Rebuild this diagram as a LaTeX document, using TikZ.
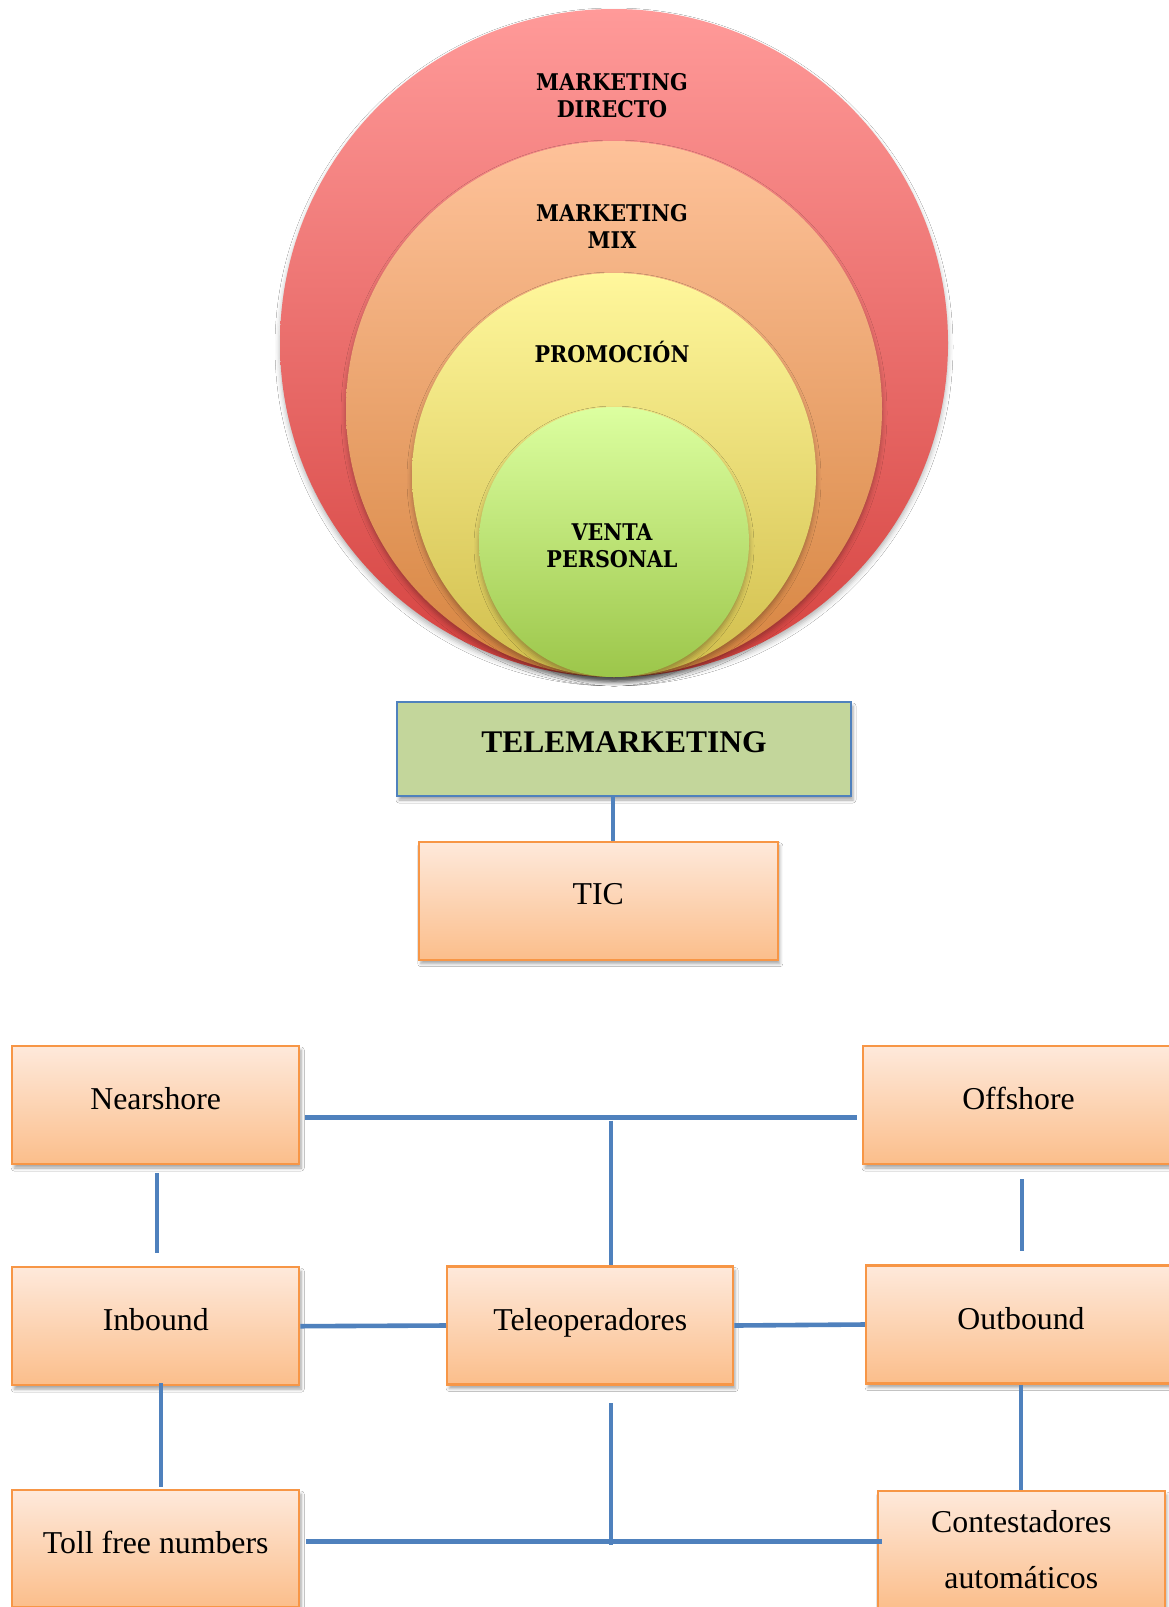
\documentclass[tikz,border=0pt]{standalone}
\usepackage{fontspec}
\setmainfont{Liberation Serif}
\newfontfamily\ringfont{DejaVuSerifCondensed}[Extension=.ttf, UprightFont=*, BoldFont=*-Bold]
\usetikzlibrary{shadows.blur}

\definecolor{linkblue}{HTML}{4F81BD}
\definecolor{boxedge}{HTML}{F79646}
\definecolor{boxtop}{HTML}{FEE9DB}
\definecolor{boxbot}{HTML}{FBBE8B}
\definecolor{tmfill}{HTML}{C3D69B}
\definecolor{redtop}{HTML}{FF9A99}
\definecolor{redbot}{HTML}{D5423F}
\definecolor{mixtop}{HTML}{FEC29A}
\definecolor{mixbot}{HTML}{D6843F}
\definecolor{promtop}{HTML}{FFF79C}
\definecolor{prombot}{HTML}{D1BE4C}
\definecolor{ventop}{HTML}{DCFFA0}
\definecolor{venbot}{HTML}{9CC64A}

\begin{document}
\begin{tikzpicture}[x=1pt,y=-1pt,
  ring/.style 2 args={circle, inner sep=0pt, top color=#1, bottom color=#2,
     blur shadow={shadow xshift=0pt, shadow yshift=-4pt, shadow blur radius=5pt, shadow opacity=30}},
  ringtext/.style={font=\ringfont\bfseries\fontsize{23}{27}\selectfont, align=center, inner sep=0pt},
  tbox/.style={rectangle, draw=boxedge, line width=2.4pt, top color=boxtop, bottom color=boxbot,
     inner sep=0pt, font=\fontsize{31.8}{56}\selectfont,
     blur shadow={shadow xshift=2pt, shadow yshift=-4pt, shadow blur radius=3pt, shadow opacity=35}},
  oneline/.style={text height=21pt, text depth=12pt},
  link/.style={draw=linkblue, line width=4.6pt},
  vlink/.style={draw=linkblue, line width=4pt}]

\useasboundingbox (0,0) rectangle (1169,1607);
\clip (0,0) rectangle (1169,1607);
\fill[white] (0,0) rectangle (1169,1607);

% nested circles
\node[ring={redtop}{redbot}, minimum size=668pt] (rdir) at (614,343) {};
\node[ring={mixtop}{mixbot}, minimum size=536pt] (rmix) at (614,409) {};
\node[ring={promtop}{prombot}, minimum size=404pt] (rpro) at (614,475) {};
\node[ring={ventop}{venbot}, minimum size=270pt] (rven) at (614,542) {};

\node[ringtext] (ldir) at (612,95.5) {MARKETING\\DIRECTO};
\node[ringtext] (lmix) at (612,226.2) {MARKETING\\MIX};
\node[ringtext, text height=17pt, text depth=0pt] (lpro) at (612,354) {PROMOCIÓN};
\node[ringtext] (lven) at (612,546.2) {VENTA\\PERSONAL};

% telemarketing and TIC
\node[draw=linkblue, line width=2pt, fill=tmfill, minimum width=454pt, minimum height=94pt,
      inner sep=0pt, font=\bfseries\fontsize{31.5}{38}\selectfont, text height=21pt, text depth=14pt,
      blur shadow={shadow xshift=2pt, shadow yshift=-4pt, shadow blur radius=3pt, shadow opacity=35}]
      (tm) at (624,749) {TELEMARKETING};
\node[tbox, text height=21pt, text depth=13pt, minimum width=359pt, minimum height=118pt] (tic) at (598.3,900.7) {TIC};

\draw[link] ([xshift=-11pt]tm.south) -- ([xshift=-11pt]tm.south |- tic.north);

% lower network
\node[tbox, oneline, minimum width=287pt, minimum height=118pt] (near) at (155.75,1105) {Nearshore};
\node[tbox, oneline, minimum width=311pt, minimum height=118pt] (off) at (1018.5,1105) {Offshore};
\node[tbox, oneline, minimum width=287pt, minimum height=118pt] (inb) at (155.75,1326.2) {Inbound};
\node[tbox, oneline, minimum width=286pt, minimum height=118pt] (tele) at (590.2,1325.5) {Teleoperadores};
\node[tbox, oneline, minimum width=310pt, minimum height=118pt] (outb) at (1021,1324.5) {Outbound};
\node[tbox, oneline, minimum width=287pt, minimum height=117pt] (toll) at (155.75,1548.6) {Toll free numbers};
\node[tbox, align=center, minimum width=287pt, minimum height=118pt] (cont) at (1021.3,1550) {Contestadores\\automáticos};

% upper bar between Nearshore and Offshore, with its drop to Teleoperadores
\draw[link, shorten <=5pt, shorten >=4.5pt] ([yshift=-12.6pt]near.east) coordinate (barL) -- (barL -| off.west);
\draw[vlink, shorten <=3pt] ([xshift=21.2pt]tele.north |- barL) -- ([xshift=21.2pt]tele.north);

% vertical links on the sides
\draw[vlink, shorten <=8pt, shorten >=12.8pt] ([xshift=1pt]near.south) -- ([xshift=1pt]near.south |- inb.north);
\draw[vlink, shorten <=14pt, shorten >=13pt] ([xshift=3pt]off.south) -- ([xshift=3pt]off.south |- outb.north);
\draw[vlink, shorten <=-3pt, shorten >=2pt] ([xshift=5pt]inb.south) -- ([xshift=5pt]inb.south |- toll.north);
\draw[vlink] (outb.south) -- (outb.south |- cont.north);

% middle row links
\draw[link] (inb.east) -- (tele.west);
\draw[link] (tele.east) -- (outb.west);

% lower bar between Toll free numbers and Contestadores, with the drop from Teleoperadores
\draw[link, shorten <=5.7pt, shorten >=-5.3pt] ([yshift=7pt]toll.east) coordinate (barB) -- (barB -| cont.west);
\draw[vlink, shorten <=17.3pt, shorten >=-3.5pt] ([xshift=20.5pt]tele.south) -- ([xshift=20.5pt]tele.south |- barB);

\end{tikzpicture}
\end{document}
